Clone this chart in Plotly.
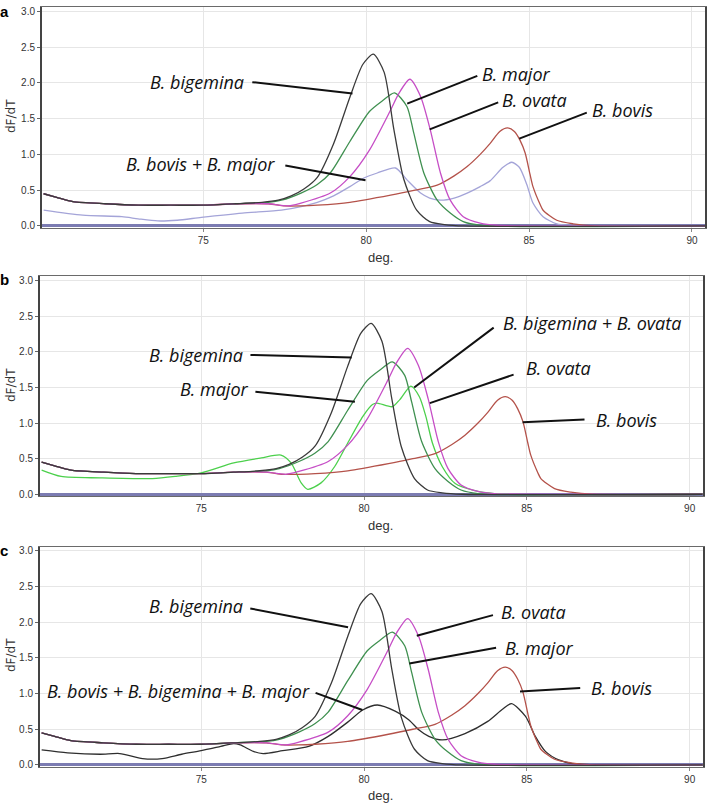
import plotly.graph_objects as go

# ---------------- data ----------------
# Standard curves (same in all three panels)
bigemina_x = [70.1, 70.5, 71.0, 72.0, 73.0, 74.0, 75.0, 76.0, 76.8, 77.3, 77.7, 78.1, 78.5, 79.0, 79.5, 79.9, 80.22, 80.55, 80.85, 81.15, 81.55, 81.95, 82.4, 83.0, 90.4]
bigemina_y = [0.45, 0.40, 0.34, 0.31, 0.29, 0.29, 0.29, 0.31, 0.33, 0.36, 0.42, 0.52, 0.68, 1.15, 1.80, 2.26, 2.40, 2.15, 1.35, 0.66, 0.22, 0.06, 0.02, 0.0, 0.0]

major_x = [70.1, 70.5, 71.0, 72.0, 73.0, 74.0, 75.0, 76.0, 77.0, 77.4, 78.0, 78.5, 78.9, 79.5, 80.1, 80.5, 80.87, 81.25, 81.46, 81.77, 82.18, 82.58, 82.98, 83.5, 90.4]
major_y = [0.45, 0.40, 0.34, 0.31, 0.29, 0.29, 0.29, 0.31, 0.33, 0.36, 0.46, 0.58, 0.74, 1.18, 1.60, 1.75, 1.86, 1.67, 1.30, 0.74, 0.36, 0.18, 0.06, 0.01, 0.0]

ovata_x = [70.1, 70.5, 71.0, 72.0, 73.0, 74.0, 75.0, 76.0, 77.0, 77.6, 78.0, 78.9, 79.5, 80.1, 80.75, 81.0, 81.34, 81.67, 81.97, 82.28, 82.58, 82.98, 83.5, 84.0, 90.4]
ovata_y = [0.45, 0.40, 0.34, 0.31, 0.29, 0.29, 0.29, 0.31, 0.31, 0.28, 0.32, 0.46, 0.69, 1.06, 1.62, 1.85, 2.05, 1.81, 1.34, 0.74, 0.36, 0.13, 0.04, 0.01, 0.0]

bovis_x = [70.1, 70.5, 71.0, 72.0, 73.0, 74.0, 75.0, 76.0, 77.0, 77.5, 78.0, 78.5, 79.5, 80.75, 81.5, 82.18, 82.7, 83.1, 83.5, 83.8, 84.1, 84.34, 84.55, 84.72, 84.88, 85.03, 85.12, 85.34, 85.43, 85.85, 86.35, 87.0, 90.4]
bovis_y = [0.45, 0.40, 0.34, 0.31, 0.29, 0.29, 0.29, 0.31, 0.31, 0.28, 0.28, 0.29, 0.33, 0.43, 0.50, 0.57, 0.70, 0.83, 1.00, 1.15, 1.32, 1.37, 1.32, 1.20, 1.02, 0.72, 0.55, 0.30, 0.22, 0.08, 0.03, 0.0, 0.0]

# Panel a: B. bovis + B. major
mix_a_x = [70.1, 71.3, 72.5, 73.0, 73.6, 74.2, 74.94, 76.2, 77.4, 78.0, 78.5, 79.0, 79.5, 79.93, 80.34, 80.9, 81.26, 81.67, 81.95, 82.28, 82.7, 83.1, 83.5, 83.8, 84.2, 84.47, 84.7, 84.93, 85.12, 85.43, 85.85, 86.3, 90.4]
mix_a_y = [0.22, 0.15, 0.13, 0.10, 0.07, 0.08, 0.12, 0.18, 0.22, 0.27, 0.33, 0.42, 0.55, 0.67, 0.74, 0.81, 0.64, 0.46, 0.39, 0.36, 0.39, 0.46, 0.55, 0.63, 0.82, 0.89, 0.82, 0.58, 0.32, 0.13, 0.03, 0.01, 0.0]

# Panel b: B. bigemina + B. ovata
mix_b_x = [70.1, 70.7, 71.9, 73.5, 74.2, 75.0, 76.0, 76.85, 77.45, 77.76, 78.07, 78.27, 78.68, 79.1, 79.5, 79.96, 80.26, 80.4, 80.87, 81.1, 81.44, 81.7, 81.9, 82.1, 82.4, 82.8, 83.4, 84.0, 90.4]
mix_b_y = [0.34, 0.25, 0.23, 0.22, 0.25, 0.30, 0.44, 0.51, 0.55, 0.44, 0.16, 0.07, 0.16, 0.39, 0.72, 1.09, 1.26, 1.28, 1.23, 1.33, 1.52, 1.37, 1.09, 0.72, 0.39, 0.15, 0.05, 0.01, 0.0]

# Panel c: B. bovis + B. bigemina + B. major
mix_c_x = [70.1, 70.9, 71.9, 72.5, 73.2, 73.8, 74.4, 75.0, 75.6, 76.0, 76.2, 76.6, 76.9, 77.5, 78.3, 78.9, 79.5, 79.96, 80.41, 80.97, 81.38, 81.69, 81.99, 82.4, 83.1, 83.8, 84.25, 84.53, 84.96, 85.26, 85.57, 85.98, 86.4, 90.4]
mix_c_y = [0.21, 0.17, 0.15, 0.16, 0.09, 0.09, 0.15, 0.20, 0.26, 0.30, 0.28, 0.19, 0.16, 0.20, 0.26, 0.40, 0.60, 0.77, 0.84, 0.75, 0.63, 0.49, 0.40, 0.35, 0.44, 0.61, 0.78, 0.86, 0.68, 0.40, 0.19, 0.07, 0.02, 0.0]

x_ticks = [75, 80, 85, 90]
y_ticks = [0.0, 0.5, 1.0, 1.5, 2.0, 2.5, 3.0]
panel_letters = ["a", "b", "c"]

# labels: (text, tip_x, tip_y, line dx px, line dy px, text centre px x, text centre px y)
labels_a = [
    ("B. bigemina", 79.58, 1.85, -101.7, -11.6, 196.5, 81.5),
    ("B. bovis + B. major", 79.98, 0.64, -81.7, -15, 200, 164),
    ("B. major", 81.26, 1.71, 71.6, -28.3, 516, 74),
    ("B. ovata", 81.95, 1.35, 70, -27.6, 534, 100),
    ("B. bovis", 84.70, 1.22, 69, -26.6, 622, 110),
]
labels_b = [
    ("B. bigemina", 79.62, 1.92, -102.7, -2.7, 195.5, 355),
    ("B. major", 79.72, 1.30, -101, -10, 214, 389.3),
    ("B. bigemina + B. ovata", 81.54, 1.50, 81, -61, 591.7, 323.3),
    ("B. ovata", 82.02, 1.28, 85.3, -29, 558.3, 368.3),
    ("B. bovis", 84.87, 1.01, 63.4, -3, 626.7, 420),
]
labels_c = [
    ("B. bigemina", 79.51, 1.93, -99.3, -19, 195.5, 606),
    ("B. bovis + B. bigemina + B. major", 79.95, 0.77, -48.3, -17.7, 179, 691),
    ("B. ovata", 81.62, 1.81, 77.7, -21, 533, 611.7),
    ("B. major", 81.39, 1.42, 88.3, -16, 539.7, 648.3),
    ("B. bovis", 84.79, 1.03, 61.7, -3.4, 621, 688.3),
]

# ---------------- figure ----------------
W, H = 708, 807
C_BIG = "#3a3a3a"
C_MAJ = "#3f9050"
C_OVA = "#c64ec6"
C_BOV = "#b4524a"

standards = [
    (bovis_x, bovis_y, C_BOV),
    (major_x, major_y, C_MAJ),
    (ovata_x, ovata_y, C_OVA),
    (bigemina_x, bigemina_y, C_BIG),
]
mixes = [
    (mix_a_x, mix_a_y, "#a4a4d8"),
    (mix_b_x, mix_b_y, "#4cd04c"),
    (mix_c_x, mix_c_y, "#2e2e2e"),
]
all_labels = [labels_a, labels_b, labels_c]

# panel geometry in pixels: (left, right, top, bottom)
geom = [(42, 705, 7.0, 228.1), (40, 702.7, 276.4, 496.4), (40, 702.7, 546.5, 767.1)]
deg_py = [257, 525, 795]
dfdt_py = [116, 385, 655]
letter_py = [11, 279, 550]

fig = go.Figure()
annotations = []
layout_axes = {}
for i in range(3):
    xa = "x" if i == 0 else f"x{i+1}"
    ya = "y" if i == 0 else f"y{i+1}"
    mx, my, mc = mixes[i]
    fig.add_trace(go.Scatter(x=mx, y=my, mode="lines", line=dict(color=mc, width=1.3, shape="spline", smoothing=0.7),
                             xaxis=xa, yaxis=ya, showlegend=False, hoverinfo="skip"))
    for sx, sy, sc in standards:
        fig.add_trace(go.Scatter(x=sx, y=sy, mode="lines", line=dict(color=sc, width=1.3, shape="spline", smoothing=0.7),
                                 xaxis=xa, yaxis=ya, showlegend=False, hoverinfo="skip"))
    l, r, t, b = geom[i]
    layout_axes["xaxis" if i == 0 else f"xaxis{i+1}"] = dict(
        domain=[l / W, r / W], anchor=ya, range=[70.05, 90.4], automargin=False,
        tickvals=x_ticks, ticktext=[str(v) for v in x_ticks],
        showgrid=True, gridcolor="#e6e6e6", gridwidth=1, zeroline=False,
        showline=True, linecolor="#6a6a6a", linewidth=1, mirror=True,
        ticks="outside", ticklen=3, tickcolor="#888",
        tickfont=dict(family="Liberation Sans, Arial", size=10, color="#333"),
    )
    layout_axes["yaxis" if i == 0 else f"yaxis{i+1}"] = dict(
        domain=[1 - b / H, 1 - t / H], anchor=xa, range=[-0.03, 3.06], automargin=False,
        tickvals=y_ticks, ticktext=[f"{v:.1f}" for v in y_ticks],
        showgrid=True, gridcolor="#e6e6e6", gridwidth=1,
        zeroline=True, zerolinecolor="#7c7cb2", zerolinewidth=3,
        showline=True, linecolor="#444", linewidth=2, mirror=True,
        ticks="outside", ticklen=3, tickcolor="#666",
        tickfont=dict(family="Liberation Sans, Arial", size=10, color="#333"),
    )
    # labels with leader lines
    for (txt, tx, ty, dx, dy, cx, cy) in all_labels[i]:
        annotations.append(dict(x=tx, y=ty, xref=xa, yref=ya, ax=dx, ay=dy, axref="pixel", ayref="pixel",
                                text="", showarrow=True, arrowhead=0, arrowwidth=2, arrowcolor="#111", standoff=0))
        annotations.append(dict(x=cx / W, y=1 - cy / H, xref="paper", yref="paper", text=f"<i>{txt}</i>",
                                showarrow=False, xanchor="center", yanchor="middle",
                                font=dict(family="Open Sans, sans-serif", size=18, color="#111")))
    # axis titles & panel letters
    annotations.append(dict(x=380 / W, y=1 - deg_py[i] / H, xref="paper", yref="paper", text="deg.",
                            showarrow=False, xanchor="center", yanchor="middle",
                            font=dict(family="Liberation Sans, Arial", size=13, color="#333")))
    annotations.append(dict(x=11 / W, y=1 - dfdt_py[i] / H, xref="paper", yref="paper", text="dF/dT",
                            showarrow=False, textangle=-90, xanchor="center", yanchor="middle",
                            font=dict(family="DejaVu Sans, Arial", size=12, color="#333")))
    annotations.append(dict(x=4 / W, y=1 - letter_py[i] / H, xref="paper", yref="paper", text="<b>" + panel_letters[i] + "</b>",
                            showarrow=False, xanchor="center", yanchor="middle",
                            font=dict(family="Liberation Sans, Arial", size=15, color="#000")))

fig.update_layout(
    width=W, height=H, margin=dict(l=0, r=0, t=0, b=0),
    paper_bgcolor="white", plot_bgcolor="white",
    annotations=annotations, **layout_axes,
)
# remove the browser's default 8px page margin so the figure sits at the window origin
fig.write_html("out.html", config={"displayModeBar": False, "staticPlot": True},
               post_script="document.body.style.margin='0';document.body.style.overflow='hidden';")
